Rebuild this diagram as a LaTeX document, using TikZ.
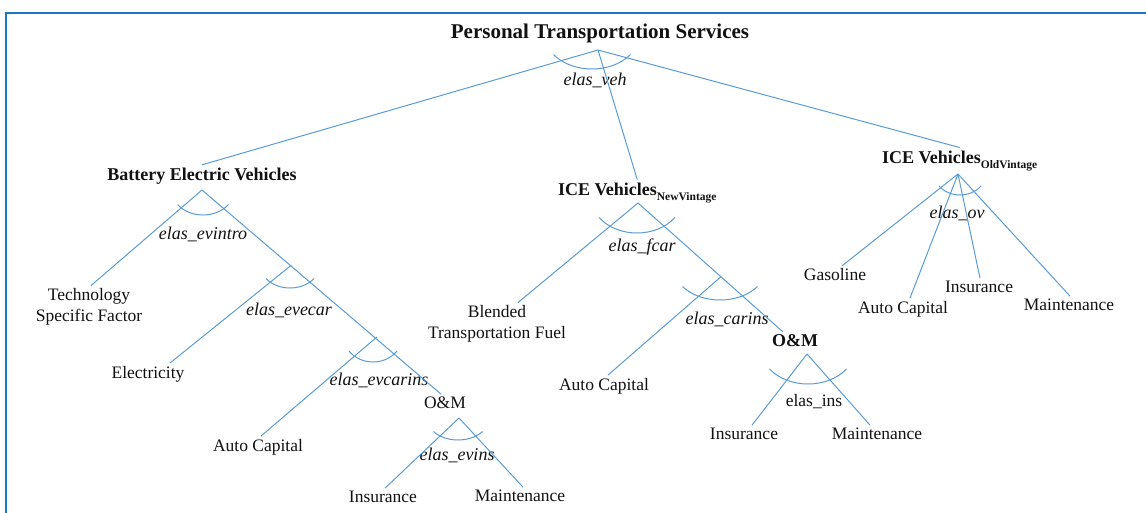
\documentclass[tikz,border=0pt]{standalone}
\usepackage{fontspec}
\setmainfont{Liberation Serif}
\usepackage{tikz}
\usetikzlibrary{positioning,calc}
\definecolor{frameblue}{HTML}{1C75C9}
\definecolor{branchblue}{HTML}{5B9BD5}
\definecolor{inkblack}{HTML}{111111}
\tikzset{
  branch/.style={draw=branchblue, line width=1pt},
  framebox/.style={draw=frameblue, line width=2.5pt},
  leaf/.style={
    font=\fontsize{17.5}{21}\selectfont, text=inkblack,
    align=center, inner sep=1pt, outer sep=2pt
  },
  group/.style={leaf, font=\bfseries\fontsize{18}{21}\selectfont},
  elas/.style={font=\itshape\fontsize{18}{20}\selectfont, text=inkblack,
    inner sep=1pt},
  pics/elasarc/.style 2 args={code={
    \draw[branch] (-#1,-#2) .. controls (-#1/2,#2/3) and (#1/2,#2/3) .. (#1,-#2);
  }},
}
\newcommand{\vintage}[1]{\raisebox{-5pt}{\fontsize{11.5}{12}\selectfont #1}}

\begin{document}
\begin{tikzpicture}[x=1pt, y=-1pt]
\clip (0,0) rectangle (1146,512);
\draw[framebox] (6,13) rectangle (1170,540);

\node[group, font=\bfseries\fontsize{21}{24}\selectfont] (pts) at (600,33) {Personal Transportation Services};
\coordinate (pts-top) at (598,50);
\node[elas] (veh) at (595,80) {elas\_veh};
\pic at (592,69) {elasarc={38.5}{14.5}};

% battery electric
\node[group] (bev) at (202,176) {Battery Electric Vehicles};
\coordinate (bev-top) at (202,190);
\node[leaf] (tsf) at (89,307) {Technology\\Specific Factor};
\node[leaf] (elec) at (148,374) {Electricity};
\node[leaf] (bevcap) at (258,447) {Auto Capital};
\node[leaf] (bevom) at (445,403) {O\&M};
\node[leaf] (bevins) at (383,497) {Insurance};
\node[leaf] (bevmnt) at (520,496) {Maintenance};
\coordinate (evecar-top) at ($(bev-top)!0.368!(bevom.north)$);
\coordinate (evcarins-top) at ($(bev-top)!0.72!(bevom.north)$);
\coordinate (evins-top) at (459,418);
\node[elas] (evintro) at (203,234) {elas\_evintro};
\node[elas] (evecar) at (289,310) {elas\_evecar};
\node[elas] (evcarins) at (379,380) {elas\_evcarins};
\node[elas] (evins) at (457,455) {elas\_evins};
\pic at (203,215) {elasarc={25.5}{10.5}};
\pic at (290,288) {elasarc={24}{9.5}};
\pic at (373,362) {elasarc={24}{11}};
\pic at (458,440) {elasarc={24.5}{8.5}};

% new vintage
\node[group, anchor=base west] (icenew) at (555,195) {ICE Vehicles\vintage{NewVintage}};
\coordinate (icenew-top) at (638,203);
\node[leaf] (blended) at (497,324) {Blended\\Transportation Fuel};
\node[leaf] (icecap) at (604,386) {Auto Capital};
\node[group] (iceom) at (795,341) {O\&M};
\node[leaf] (iceins) at (744,434) {Insurance};
\node[leaf] (icemnt) at (877,434) {Maintenance};
\coordinate (carins-top) at ($(icenew-top)!0.572!([xshift=-12pt]iceom.north)$);
\coordinate (ins-top) at (807,354);
\node[elas] (fcar) at (642,247) {elas\_fcar};
\node[elas] (carins) at (727,319) {elas\_carins};
\node[leaf, outer sep=0pt] (ins) at (814,402) {elas\_ins};
\pic at (637,233) {elasarc={38}{15.5}};
\pic at (720,300) {elasarc={37.5}{13.5}};
\pic at (808,384) {elasarc={38.5}{15}};

% old vintage
\node[group, anchor=base west] (iceold) at (879,163) {ICE Vehicles\vintage{OldVintage}};
\coordinate (iceold-top) at (958,174);
\node[leaf] (gas) at (835,275) {Gasoline};
\node[leaf] (oldcap) at (903,309) {Auto Capital};
\node[leaf] (oldins) at (979,287) {Insurance};
\node[leaf] (oldmnt) at (1069,305) {Maintenance};
\node[elas] (ov) at (957,213) {elas\_ov};
\pic at (960,195) {elasarc={21}{9}};

\draw[branch] (pts-top) -- (bev.north);
\draw[branch] (pts-top) -- (icenew.north);
\draw[branch] (pts-top) -- (iceold.north);

\draw[branch] (bev-top) -- ([xshift=2pt]tsf.north);
\draw[branch] (bev-top) -- ([xshift=-4pt]bevom.north);
\draw[branch] (evecar-top) -- ([xshift=22pt]elec.north);
\draw[branch] (evcarins-top) -- ([xshift=3pt]bevcap.north);
\draw[branch] (evins-top) -- ([xshift=2pt]bevins.north);
\draw[branch] (evins-top) -- ([xshift=3pt]bevmnt.north);

\draw[branch] (icenew-top) -- ([xshift=21pt]blended.north);
\draw[branch] (icenew-top) -- ([xshift=-12pt]iceom.north);
\draw[branch] (carins-top) -- ([xshift=4pt]icecap.north);
\draw[branch] (ins-top) -- ([xshift=8pt]iceins.north);
\draw[branch] (ins-top) -- ([xshift=-7pt]icemnt.north);

\draw[branch] (iceold-top) -- ([xshift=7pt]gas.north);
\draw[branch] (iceold-top) -- ([xshift=7pt]oldcap.north);
\draw[branch] (iceold-top) -- ([xshift=1pt]oldins.north);
\draw[branch] (iceold-top) -- ([xshift=1pt]oldmnt.north);
\end{tikzpicture}
\end{document}
